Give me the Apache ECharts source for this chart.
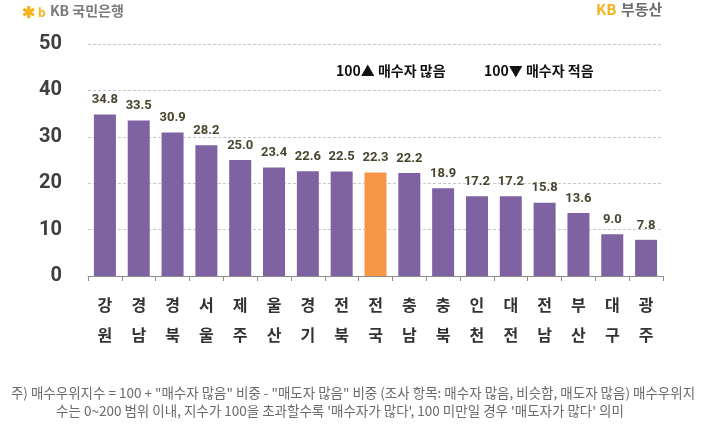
<!DOCTYPE html>
<html><head><meta charset="utf-8">
<script src="https://cdn.jsdelivr.net/npm/echarts@6/dist/echarts.min.js"></script>
<style>html,body{margin:0;padding:0;background:#fff}#c{width:712px;height:432px}</style>
</head><body><div id="c"></div>
<script>
const categories = ['강원','경남','경북','서울','제주','울산','경기','전북','전국','충남','충북','인천','대전','전남','부산','대구','광주'];
const values = [34.8,33.5,30.9,28.2,25.0,23.4,22.6,22.5,22.3,22.2,18.9,17.2,17.2,15.8,13.6,9.0,7.8];
const highlight = '전국';
const yTicks = [0,10,20,30,40,50];
const legendTexts = ['100▲ 매수자 많음','100▼ 매수자 적음'];
const noteLines = [
  '주) 매수우위지수 = 100 + "매수자 많음" 비중 - "매도자 많음" 비중 (조사 항목: 매수자 많음, 비슷함, 매도자 많음) 매수우위지',
  '수는 0~200 범위 이내, 지수가 100을 초과할수록 \'매수자가 많다\', 100 미만일 경우 \'매도자가 많다\' 의미'
];
const FONT = '"Noto Sans CJK KR","Noto Sans",sans-serif';
const chart = echarts.init(document.getElementById('c'), null, {renderer:'canvas'});
chart.setOption({
  animation:false,
  backgroundColor:'#fff',
  grid:{left:88,right:49,top:44,bottom:156,containLabel:false},
  xAxis:{type:'category',data:categories,
    axisLine:{lineStyle:{color:'#8c8c8c',width:1}},
    axisTick:{show:true,length:5,lineStyle:{color:'#8c8c8c'}},
    axisLabel:{interval:0,margin:14,fontFamily:FONT,fontSize:16,fontWeight:'bold',color:'#333',lineHeight:30,
      formatter:v=>v.split('').join('\n')}},
  yAxis:{type:'value',min:yTicks[0],max:yTicks[yTicks.length-1],interval:10,
    axisLine:{show:false},axisTick:{show:false},
    splitLine:{show:true,lineStyle:{color:'#c8c8c8',type:[3,2],width:1}},
    axisLabel:{margin:26,fontFamily:'Roboto,"Noto Sans",sans-serif',fontSize:20,fontWeight:'bold',color:'#3f3f3f'}},
  series:[{type:'bar',barWidth:22,
    data:values.map((v,i)=>({value:v,itemStyle:{color:categories[i]===highlight?'#F79646':'#7E62A1'}})),
    label:{show:true,position:'top',distance:8,fontFamily:'Roboto,"Noto Sans",sans-serif',fontSize:13,fontWeight:'bold',color:'#48452f',
      formatter:p=>p.value.toFixed(1)}}],
  graphic:[
    {type:'text',left:22,top:4,style:{text:'✱',fill:'#F5B41E',font:'bold 16px '+FONT}},
    {type:'text',left:38,top:6,style:{text:'b',fill:'#F5B41E',font:'bold 12px '+FONT}},
    {type:'text',left:50,top:4,style:{text:'KB 국민은행',fill:'#7a7a7a',font:'bold 14px '+FONT}},
    {type:'text',left:596,top:2,style:{text:'KB',fill:'#F5B41E',font:'bold 15px '+FONT}},
    {type:'text',left:621,top:2,style:{text:'부동산',fill:'#6e6e6e',font:'bold 15px '+FONT}},
    {type:'text',left:336,top:64,style:{text:legendTexts[0],fill:'#111',font:'bold 14px '+FONT}},
    {type:'text',left:484,top:64,style:{text:legendTexts[1],fill:'#111',font:'bold 14px '+FONT}},
    {type:'text',x:353,y:393,style:{text:noteLines[0],fill:'#6a6a6a',font:'13.5px '+FONT,align:'center',verticalAlign:'middle'}},
    {type:'text',x:340,y:411,style:{text:noteLines[1],fill:'#6a6a6a',font:'13.5px '+FONT,align:'center',verticalAlign:'middle'}}
  ]
});
</script></body></html>
